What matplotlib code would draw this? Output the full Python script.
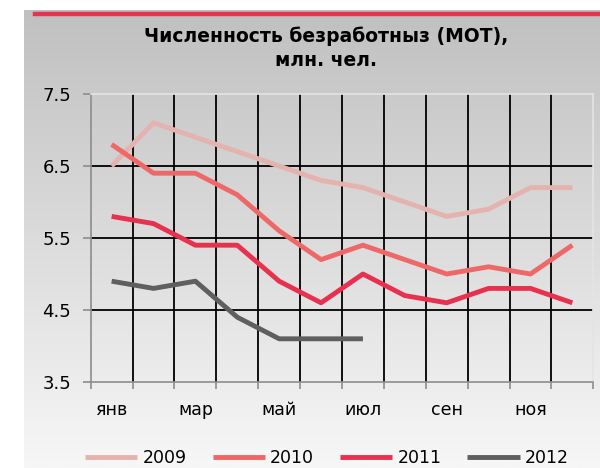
import matplotlib
matplotlib.use('Agg')
import matplotlib.pyplot as plt
import numpy as np
from matplotlib.lines import Line2D

# данные по месяцам, млн. чел.
months = ['янв', 'фев', 'мар', 'апр', 'май', 'июн', 'июл', 'авг', 'сен', 'окт', 'ноя', 'дек']
y2009 = [6.5, 7.1, 6.9, 6.7, 6.5, 6.3, 6.2, 6.0, 5.8, 5.9, 6.2, 6.2]
y2010 = [6.8, 6.4, 6.4, 6.1, 5.6, 5.2, 5.4, 5.2, 5.0, 5.1, 5.0, 5.4]
y2011 = [5.8, 5.7, 5.4, 5.4, 4.9, 4.6, 5.0, 4.7, 4.6, 4.8, 4.8, 4.6]
y2012 = [4.9, 4.8, 4.9, 4.4, 4.1, 4.1, 4.1]

series = [('2009', y2009, '#e5b3af'),
          ('2010', y2010, '#ee6868'),
          ('2011', y2011, '#e8304f'),
          ('2012', y2012, '#5f5f5f')]

fig = plt.figure(figsize=(6, 4.68), dpi=100)
W, H = 600, 468

# фон с градиентом
bg = fig.add_axes([24 / W, 0, 1 - 24 / W, 1 - 10 / H], zorder=0)
grad = np.linspace(0, 1, 256).reshape(-1, 1)
bg.imshow(grad, aspect='auto', cmap=matplotlib.colors.LinearSegmentedColormap.from_list(
    'g', ['#c0c0c0', '#f7f7f7']), extent=[0, 1, 0, 1], origin='upper')
bg.axis('off')

# красная полоса сверху
fig.add_artist(Line2D([35 / W, 1], [1 - 14 / H, 1 - 14 / H], color='#e8334f', lw=3.2,
                      transform=fig.transFigure, zorder=1))

ax = fig.add_axes([90.7 / W, 1 - 382 / H, (593.3 - 90.7) / W, (382 - 94) / H], zorder=2)
ax.set_facecolor('none')

x = np.arange(len(months))
for name, vals, col in series:
    ax.plot(x[:len(vals)], vals, color=col, lw=3.5, label=name, solid_capstyle='butt', zorder=3)

ax.set_xlim(-0.5, 11.5)
ax.set_ylim(3.5, 7.5)
ax.set_yticks([3.5, 4.5, 5.5, 6.5, 7.5])
ax.set_yticklabels(['3.5', '4.5', '5.5', '6.5', '7.5'])
ax.set_xticks(x[::2])
ax.set_xticklabels(months[::2])
ax.set_xticks(np.arange(-0.5, 12, 1), minor=True)

ax.tick_params(axis='x', which='major', length=0, pad=14, labelsize=12.5)
ax.tick_params(axis='x', which='minor', length=5, color='#8c8c8c', width=1.2)
ax.tick_params(axis='y', length=6, color='#8c8c8c', width=1.2, pad=8, labelsize=13)

# сетка
for b in np.arange(0.5, 11.5, 1):
    ax.axvline(b, color='black', lw=1.3, zorder=1)
for v in [4.5, 5.5, 6.5]:
    ax.axhline(v, color='black', lw=1.3, zorder=1)

for s in ['left', 'bottom']:
    ax.spines[s].set_color('#8c8c8c')
    ax.spines[s].set_linewidth(1.2)
for s in ['top', 'right']:
    ax.spines[s].set_color('#e4e4e4')
    ax.spines[s].set_linewidth(1.2)

fig.text(326 / W, 1 - 48 / H, 'Численность безработныз (МОТ),\nмлн. чел.', ha='center', va='center',
         fontsize=13.5, fontweight='bold', linespacing=1.3)

fig.legend(loc='center', bbox_to_anchor=(327 / W, 1 - 458 / H), ncol=4, frameon=False,
           fontsize=12.5, handlelength=3.0, handletextpad=0.3, columnspacing=1.5)

fig.savefig('out.png', dpi=100)
